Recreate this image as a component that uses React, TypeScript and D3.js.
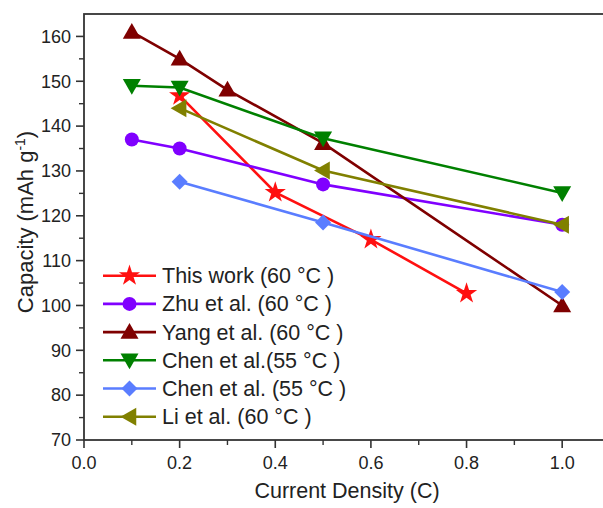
import React from "react";
import * as d3 from "d3";

const W = 603;
const H = 508;
const margin = { left: 84, top: 14, right: 610, bottom: 440 };

const seriesNames = [
  "This work (60 °C )",
  "Zhu et al. (60 °C )",
  "Yang et al. (60 °C )",
  "Chen et al.(55 °C )",
  "Chen et al. (55 °C )",
  "Li et al. (60 °C )",
];
const seriesColors = ["#ff1010", "#8000ff", "#7f0000", "#008000", "#5a7dff", "#808000"];
const seriesSymbols = ["star", "circle", "up", "down", "diamond", "left"];

const thisWorkX = [0.2, 0.4, 0.6, 0.8];
const thisWorkY = [146.8, 125.2, 114.7, 102.7];
const zhuX = [0.1, 0.2, 0.5, 1.0];
const zhuY = [137, 135, 127, 118];
const yangX = [0.1, 0.2, 0.3, 0.5, 1.0];
const yangY = [161, 155, 148.1, 136.2, 100];
const chen1X = [0.1, 0.2, 0.5, 1.0];
const chen1Y = [149, 148.6, 137.3, 125.1];
const chen2X = [0.2, 0.5, 1.0];
const chen2Y = [127.6, 118.5, 103];
const liX = [0.2, 0.5, 1.0];
const liY = [144, 130.1, 118];

const xTicks = [0, 0.2, 0.4, 0.6, 0.8, 1.0];
const yTicks = [70, 80, 90, 100, 110, 120, 130, 140, 150, 160];

const allX = [thisWorkX, zhuX, yangX, chen1X, chen2X, liX];
const allY = [thisWorkY, zhuY, yangY, chen1Y, chen2Y, liY];

const FONT = "'Liberation Sans', Arial, sans-serif";

function Marker({ kind, x, y, color }: { kind: string; x: number; y: number; color: string }) {
  if (kind === "circle") return <circle cx={x} cy={y} r={7} fill={color} />;
  if (kind === "star") {
    const p = d3.symbol(d3.symbolStar, 140)();
    return <path d={p!} transform={`translate(${x},${y})`} fill={color} />;
  }
  if (kind === "diamond") {
    const s = 8;
    return <path d={`M${x},${y - s}L${x + s},${y}L${x},${y + s}L${x - s},${y}Z`} fill={color} />;
  }
  const s = 9;
  let d = "";
  if (kind === "up") d = `M${x},${y - s}L${x + s},${y + s * 0.75}L${x - s},${y + s * 0.75}Z`;
  if (kind === "down") d = `M${x},${y + s}L${x + s},${y - s * 0.75}L${x - s},${y - s * 0.75}Z`;
  if (kind === "left") d = `M${x - s},${y}L${x + s * 0.75},${y - s}L${x + s * 0.75},${y + s}Z`;
  return <path d={d} fill={color} />;
}

export default function App() {
  const x = d3.scaleLinear().domain([0, 1.1]).range([margin.left, margin.right]);
  const y = d3.scaleLinear().domain([70, 165]).range([margin.bottom, margin.top]);
  const line = d3
    .line<[number, number]>()
    .x((d) => x(d[0]))
    .y((d) => y(d[1]));

  const xMinor = d3.range(0, 11).map((i) => i * 0.1).filter((v) => Math.round(v * 10) % 2 === 1);
  const yMinor = d3.range(75, 165, 10);

  const legendX0 = 103;
  const legendY0 = 275.7;
  const legendStep = 28.2;

  return (
    <svg width={W} height={H} style={{ position: "absolute", left: 0, top: 0, background: "#fff" }} fontFamily={FONT}>
      <rect
        x={margin.left}
        y={margin.top}
        width={margin.right - margin.left}
        height={margin.bottom - margin.top}
        fill="none"
        stroke="#333"
        strokeWidth={1.8}
      />
      {yTicks.map((t) => (
        <g key={"yt" + t}>
          <line x1={margin.left - 8} x2={margin.left} y1={y(t)} y2={y(t)} stroke="#333" strokeWidth={1.6} />
          <text x={margin.left - 13} y={y(t)} dy="0.35em" textAnchor="end" fontSize={18} fill="#222">
            {t}
          </text>
        </g>
      ))}
      {yMinor.map((t) => (
        <line key={"ym" + t} x1={margin.left - 5} x2={margin.left} y1={y(t)} y2={y(t)} stroke="#333" strokeWidth={1.4} />
      ))}
      {xTicks.map((t) => (
        <g key={"xt" + t}>
          <line x1={x(t)} x2={x(t)} y1={margin.bottom} y2={margin.bottom + 8} stroke="#333" strokeWidth={1.6} />
          <text x={x(t)} y={margin.bottom + 29} textAnchor="middle" fontSize={18} fill="#222">
            {t.toFixed(1)}
          </text>
        </g>
      ))}
      {xMinor.map((t) => (
        <line key={"xm" + t} x1={x(t)} x2={x(t)} y1={margin.bottom} y2={margin.bottom + 5} stroke="#333" strokeWidth={1.4} />
      ))}
      <text x={(margin.left + margin.right) / 2} y={498} textAnchor="middle" fontSize={21.5} fill="#222">
        Current Density (C)
      </text>
      <text
        transform={`translate(33,222) rotate(-90)`}
        textAnchor="middle"
        fontSize={22}
        fill="#222"
      >
        Capacity (mAh g
        <tspan fontSize={14} dy={-8}>-1</tspan>
        <tspan dy={8}>)</tspan>
      </text>
      {allX.map((xs, i) => {
        const pts: [number, number][] = xs.map((v, j) => [v, allY[i][j]]);
        return (
          <g key={"s" + i}>
            <path d={line(pts)!} fill="none" stroke={seriesColors[i]} strokeWidth={2.6} />
            {pts.map((p, j) => (
              <Marker key={j} kind={seriesSymbols[i]} x={x(p[0])} y={y(p[1])} color={seriesColors[i]} />
            ))}
          </g>
        );
      })}
      {seriesNames.map((n, i) => {
        const ly = legendY0 + i * legendStep;
        return (
          <g key={"l" + i}>
            <line x1={legendX0} x2={legendX0 + 53} y1={ly} y2={ly} stroke={seriesColors[i]} strokeWidth={2.6} />
            <Marker kind={seriesSymbols[i]} x={legendX0 + 26.5} y={ly} color={seriesColors[i]} />
            <text x={legendX0 + 59} y={ly} dy="0.35em" fontSize={21.5} fill="#222">
              {n}
            </text>
          </g>
        );
      })}
    </svg>
  );
}
